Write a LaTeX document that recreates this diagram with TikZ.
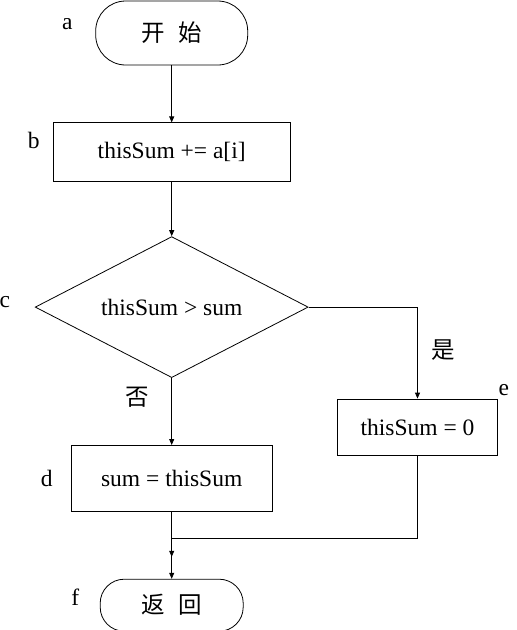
\documentclass[tikz,border=0pt]{standalone}
\usepackage{fontspec}
\setmainfont{Liberation Serif}
\newfontfamily\cjk{Noto Sans CJK SC}
\usetikzlibrary{positioning, shapes.geometric, arrows.meta}

\begin{document}
\begin{tikzpicture}[font=\fontsize{23.5}{28}\selectfont,
		term/.style={draw, line width=0.8pt, inner sep=0pt},
		proc/.style={draw, rectangle, line width=0.8pt, inner sep=0pt},
		dec/.style={draw, diamond, aspect=1.9, line width=0.8pt, inner sep=0pt},
		lbl/.style={inner sep=0pt},
		arr/.style={-{Triangle[length=6pt, width=5pt]}, line width=0.8pt}]
		\useasboundingbox (0,0) rectangle (517pt,-630pt);

		\node [term, rounded corners=30pt, minimum width=152pt, minimum height=64pt] (a) at (171.7pt,-33pt) {\cjk 开\hspace{0.6em}始};
		\node [proc, minimum width=237pt, minimum height=59pt, below=57pt of a] (b) {thisSum += a[i]};
		\node [dec, minimum width=273pt, minimum height=141pt, below=54pt of b] (c) {thisSum > sum};
		\node [proc, minimum width=201pt, minimum height=66pt, below=67pt of c] (d) {sum = thisSum};
		\node [proc, minimum width=160pt, minimum height=56pt, below right=91.5pt and 28.5pt of c.east] (e) {thisSum = 0};
		\node [term, rounded corners=24pt, minimum width=143pt, minimum height=52pt, below=67pt of d] (f) {\cjk 返\hspace{0.6em}回};

		\coordinate [below=26.7pt of d.south] (m);
		\coordinate [below=45pt of d.south] (dend);

		\node [lbl] (la) at ([shift={(-28pt,9pt)}]a.west) {a};
		\node [lbl] (lb) at ([shift={(-19pt,11.5pt)}]b.west) {b};
		\node [lbl] (lc) at ([shift={(-30pt,5pt)}]c.west) {c};
		\node [lbl] (ld) at ([shift={(-24pt,0pt)}]d.west) {d};
		\node [lbl] (le) at ([shift={(6pt,9pt)}]e.north east) {e};
		\node [lbl] (lf) at ([shift={(-24.5pt,7.5pt)}]f.west) {f};
		\node [lbl] (no) at ([shift={(-34.5pt,-19pt)}]c.south) {\cjk 否};
		\node [lbl] (yes) at ([shift={(26pt,48.5pt)}]e.north) {\cjk 是};

		\path[arr] (a) edge (b);
		\path[arr] (b) edge (c);
		\path[arr] (c) edge (d);
		\path[arr] (d) edge (dend);
		\draw[arr] (c.east) -| (e);
		\draw[arr] (e.south) |- (m) -- (f);
	\end{tikzpicture}
\end{document}
